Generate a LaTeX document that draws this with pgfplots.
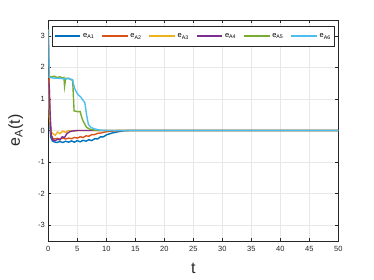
\documentclass[border=0pt]{standalone}
\usepackage{fontspec}
\setmainfont{Liberation Sans}
\usepackage{pgfplots}
\pgfplotsset{compat=1.18}
\definecolor{c1}{rgb}{0,0.447,0.741}
\definecolor{c2}{rgb}{0.85,0.325,0.098}
\definecolor{c3}{rgb}{0.929,0.694,0.125}
\definecolor{c4}{rgb}{0.494,0.184,0.556}
\definecolor{c5}{rgb}{0.466,0.674,0.188}
\definecolor{c6}{rgb}{0.301,0.745,0.933}
\definecolor{axg}{rgb}{0.15,0.15,0.15}
\begin{document}
\begin{tikzpicture}
\begin{axis}[
  scale only axis, width=290pt, height=221pt,
  xmin=0, xmax=50, ymin=-3.5, ymax=3.5,
  xtick={0,5,...,50}, ytick={-3,-2,-1,0,1,2,3},
  grid=major, major grid style={gray!18, line width=0.4pt},
  axis line style={axg, line width=0.5pt},
  tick style={axg, line width=0.5pt},
  tick align=inside, major tick length=3pt,
  ticklabel style={font=\fontsize{7.5}{8}\selectfont, text=axg},
  xticklabel style={yshift=-2pt},
  /pgf/number format/assume math mode=true,
  xlabel={t}, ylabel={e$_\mathrm{A}$(t)},
  xlabel style={font=\fontsize{16}{17}\selectfont, text=axg, yshift=-4pt},
  ylabel style={font=\fontsize{16}{17}\selectfont, text=axg, yshift=8pt},
  legend columns=6,
  legend style={at={(0.5,0.975)}, anchor=north, draw=axg, line width=0.5pt,
    font=\fontsize{7.5}{8}\selectfont, inner xsep=2pt, inner ysep=3pt,
    nodes={text height=7pt, text depth=3pt},
    /tikz/every even column/.append style={column sep=5pt}},
  legend image code/.code={\draw[line width=1.6pt, mark repeat=2,mark phase=2] plot coordinates {(0cm,0cm) (0.45cm,0cm) (0.9cm,0cm)};},
  every axis plot/.append style={line width=1.4pt},
]
\addplot[c1] coordinates {(0,1.6)(0.2,0.5)(0.4,-0.2)(0.7,-0.33)(1,-0.36)(1.5,-0.38)(2,-0.35)(2.5,-0.38)(3,-0.34)(3.5,-0.37)(4,-0.33)(4.5,-0.37)(5,-0.32)(5.5,-0.36)(6,-0.31)(6.5,-0.34)(7,-0.29)(7.5,-0.32)(8,-0.26)(8.5,-0.27)(9,-0.2)(9.5,-0.2)(10,-0.14)(11,-0.08)(12,-0.04)(13,-0.01)(14,0)(50,0)};
\addlegendentry{e$_\mathrm{A1}$}
\addplot[c2] coordinates {(0,3.2)(0.15,1.5)(0.3,0.3)(0.5,-0.15)(0.8,-0.25)(1,-0.27)(1.5,-0.25)(2,-0.27)(2.5,-0.24)(3,-0.27)(3.5,-0.24)(4,-0.26)(4.5,-0.22)(5,-0.24)(5.5,-0.2)(6,-0.22)(6.5,-0.17)(7,-0.18)(7.5,-0.13)(8,-0.13)(8.5,-0.09)(9,-0.08)(10,-0.04)(11,-0.02)(12,0)(50,0)};
\addlegendentry{e$_\mathrm{A2}$}
\addplot[c3] coordinates {(0,1.6)(0.2,0.4)(0.5,-0.05)(0.8,-0.1)(1.2,-0.15)(1.6,-0.05)(2,-0.1)(2.5,-0.02)(3,-0.06)(3.5,0)(4,-0.02)(5,0)(50,0)};
\addlegendentry{e$_\mathrm{A3}$}
\addplot[c4] coordinates {(0,1.6)(0.15,1.4)(0.3,0.6)(0.5,-0.15)(0.8,-0.3)(1.2,-0.32)(1.6,-0.28)(2,-0.3)(2.4,-0.2)(2.8,-0.22)(3.2,-0.1)(3.6,-0.05)(4,-0.02)(5,0)(50,0)};
\addlegendentry{e$_\mathrm{A4}$}
\addplot[c5] coordinates {(0,1.7)(0.5,1.7)(1,1.72)(1.5,1.68)(2,1.7)(2.5,1.66)(2.7,1.68)(2.8,1.4)(3.0,1.65)(3.5,1.65)(4.0,1.6)(4.2,1.6)(4.35,1.0)(4.45,0.62)(5,0.6)(5.5,0.6)(5.7,0.45)(6.0,0.3)(6.3,0.2)(6.6,0.1)(7.2,0.04)(8,0.01)(9,0)(50,0)};
\addlegendentry{e$_\mathrm{A5}$}
\addplot[c6] coordinates {(0,3.2)(0.1,2.5)(0.2,1.68)(1,1.66)(2,1.65)(3,1.63)(3.5,1.65)(4,1.62)(4.2,1.6)(4.5,1.35)(4.9,1.2)(5.2,1.12)(5.5,1.08)(5.9,0.98)(6.3,0.88)(6.6,0.5)(6.9,0.2)(7.3,0.1)(8,0.05)(9,0.01)(10,0)(50,0)};
\addlegendentry{e$_\mathrm{A6}$}
\end{axis}
\path (current axis.south west) ++(-48.3pt,-39pt) rectangle ++(374pt,280pt);
\end{tikzpicture}
\end{document}
